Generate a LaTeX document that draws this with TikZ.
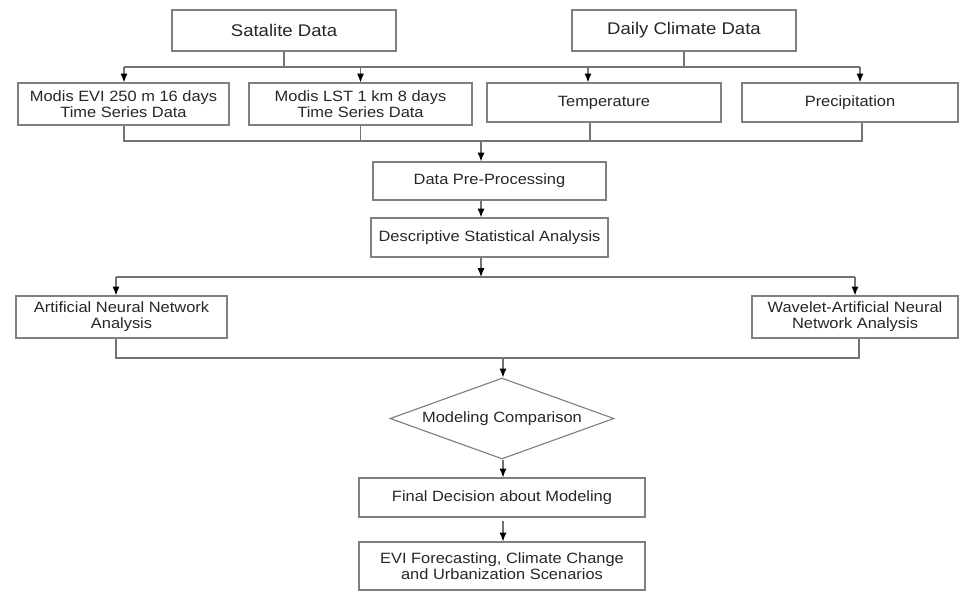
\documentclass[tikz,border=0pt]{standalone}
\usepackage{fontspec}
\setmainfont{Liberation Sans}[FakeStretch=1.1]
\usetikzlibrary{shapes,arrows.meta,calc}

\begin{document}
\begin{tikzpicture}[x=0.02cm, y=-0.02cm, >={Latex[length=5pt,width=4pt,black]},
  every node/.style={text=black!85, align=center, font=\fontsize{8.5}{9}\selectfont},
  box/.style={draw=black!50, line width=0.65pt, rectangle, inner sep=1pt},
  titlebox/.style={box, font=\fontsize{9.6}{11}\selectfont},
  choice/.style={draw=black!50, line width=0.65pt, diamond, aspect=2.77, inner sep=1pt},
  link/.style={draw=black!55, line width=0.65pt}]
  \useasboundingbox (0,0) rectangle (959,592);
  %sources
  \node[titlebox, minimum width=4.48cm, minimum height=0.82cm] (sat) at (284,30.5) {Satalite Data};
  \node[titlebox, minimum width=4.48cm, minimum height=0.82cm] (clim) at (684,30.5) {Daily Climate Data};
  \node[box, minimum width=4.22cm, minimum height=0.84cm] (evi) at (123.5,104) {Modis EVI 250 m 16 days\\Time Series Data};
  \node[box, minimum width=4.46cm, minimum height=0.84cm] (lst) at (360.5,104) {Modis LST 1 km 8 days\\Time Series Data};
  \node[box, minimum width=4.68cm, minimum height=0.78cm] (temp) at (604,102.5) {Temperature};
  \node[box, minimum width=4.32cm, minimum height=0.78cm] (prec) at (850,102.5) {Precipitation};
  %processing
  \node[box, minimum width=4.66cm, minimum height=0.76cm] (pre) at (489.5,181) {Data Pre-Processing};
  \node[box, minimum width=4.74cm, minimum height=0.78cm] (desc) at (489.5,237.5) {Descriptive Statistical Analysis};
  \node[box, minimum width=4.22cm, minimum height=0.84cm] (ann) at (121.5,317) {Artificial Neural Network\\Analysis};
  \node[box, minimum width=4.12cm, minimum height=0.84cm] (wann) at (855,317) {Wavelet-Artificial Neural\\Network Analysis};
  \node[choice, minimum width=4.48cm, minimum height=1.62cm] (cmp) at (502,418.5) {Modeling Comparison};
  \node[box, minimum width=5.72cm, minimum height=0.78cm] (fin) at (502,497.5) {Final Decision about Modeling};
  \node[box, minimum width=5.72cm, minimum height=0.96cm] (fore) at (502,566) {EVI Forecasting, Climate Change\\and Urbanization Scenarios};
  %bus points
  \coordinate (s1) at (124,67); \coordinate (s2) at (860,67); \coordinate (s3) at (588,67);
  \coordinate (m1) at (124,141); \coordinate (m2) at (862,141); \coordinate (m3) at (481,141); \coordinate (m4) at (590,141);
  \coordinate (c1) at (116,277); \coordinate (c2) at (855,277); \coordinate (c3) at (481,277);
  \coordinate (d1) at (116,358); \coordinate (d2) at (859,358); \coordinate (d3) at (503,358);
  % Edges
  \draw[link] (s1) -- (s2);
  \draw[link] (sat.south) -- (sat.south |- s1);
  \draw[link] (clim.south) -- (clim.south |- s1);
  \draw[link,->] (s1) -- (s1 |- evi.north);
  \draw[link,->] (lst.north |- s1) -- (lst.north);
  \draw[link,->] (s3) -- (s3 |- temp.north);
  \draw[link,->] (s2) -- (s2 |- prec.north);
  \draw[link] (m1 |- evi.south) -- (m1) -- (m2) -- (m2 |- prec.south);
  \draw[link] (lst.south) -- (lst.south |- m1);
  \draw[link] (m4 |- temp.south) -- (m4);
  \draw[link,->] (m3) -- (m3 |- pre.north);
  \draw[link,->] (m3 |- pre.south) -- (m3 |- desc.north);
  \draw[link,->] (m3 |- desc.south) -- (c3);
  \draw[link] (c1) -- (c2);
  \draw[link,->] (c1) -- (c1 |- ann.north);
  \draw[link,->] (c2) -- (c2 |- wann.north);
  \draw[link] (d1 |- ann.south) -- (d1) -- (d2) -- (d2 |- wann.south);
  \draw[link,->] (d3) -- (d3 |- cmp.north);
  \draw[link,->] (d3 |- cmp.south) -- (d3 |- fin.north);
  \draw[link,->, shorten <=2pt] (d3 |- fin.south) -- (d3 |- fore.north);
\end{tikzpicture}
\end{document}
